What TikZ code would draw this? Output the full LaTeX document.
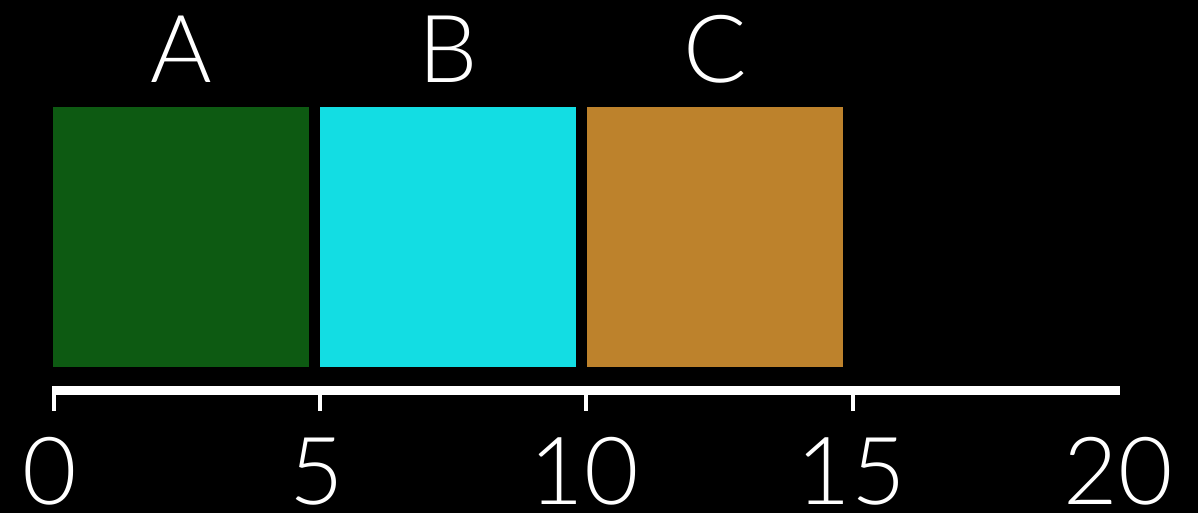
\documentclass[tikz,border=0pt]{standalone}
\usepackage{fontspec}
\setmainfont{Lato Light}
\definecolor{boxA}{RGB}{13,90,18}
\definecolor{boxB}{RGB}{19,221,227}
\definecolor{boxC}{RGB}{189,130,44}
\begin{document}
\begin{tikzpicture}[x=1pt,y=-1pt,
  bar/.style={draw=none,inner sep=0pt,minimum width=256pt,minimum height=260pt,anchor=north west},
  lbl/.style={text=white,font=\fontsize{94}{94}\selectfont,anchor=base,inner sep=0pt},
  axisline/.style={white,line width=9pt},
  tick/.style={white,line width=4pt}]
\fill[black] (0,0) rectangle (1198,513);
\useasboundingbox (0,0) rectangle (1198,513);
\node[bar,fill=boxA] (A) at (53,107) {};
\node[bar,fill=boxB] (B) at (320,107) {};
\node[bar,fill=boxC] (C) at (587,107) {};
\node[lbl] (la) at (181,83) {A};
\node[lbl] (lb) at (448,83) {B};
\node[lbl] (lc) at (715,83) {C};
\coordinate (ax0) at (52,390);
\coordinate (ax20) at (1120,390);
\draw[axisline] (ax0) -- (ax20);
\foreach \v/\x in {0/54,5/319.5,10/586,15/853}{
  \coordinate (t\v) at (\x,390);
  \draw[tick] (t\v) -- ++(0,21);
}
\foreach \v/\x in {0/50,5/317,10/584,15/851,20/1118}{
  \node[lbl] (n\v) at (\x,504) {\v};
}
\end{tikzpicture}
\end{document}
